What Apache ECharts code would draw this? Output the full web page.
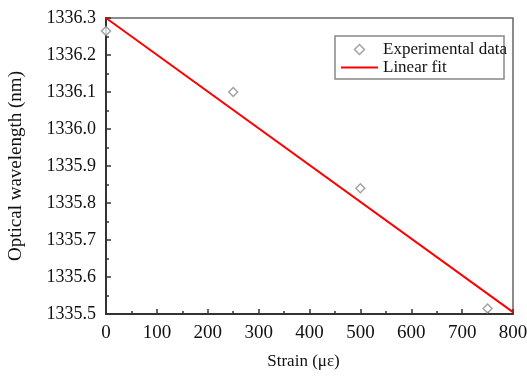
<!DOCTYPE html>
<html>
<head>
<meta charset="utf-8">
<script src="https://cdn.jsdelivr.net/npm/echarts@6/dist/echarts.min.js"></script>
<style>
  html, body { margin: 0; padding: 0; background: #fff; }
  #chart { width: 527px; height: 378px; }
</style>
</head>
<body>
<div id="chart"></div>
<script>
// measured points (strain in µε, wavelength in nm)
const strainX = [0, 250, 500, 750];
const wavelength = [1336.265, 1336.100, 1335.840, 1335.515];
// fit line end points
const fitX = [0, 800];
const fitY = [1336.300, 1335.505];

const FONT = "Liberation Serif";

const chart = echarts.init(document.getElementById("chart"));
chart.setOption({
  animation: false,
  textStyle: { fontFamily: FONT },
  grid: {
    left: 106,
    right: 14,
    top: 18,
    bottom: 64,
    outerBoundsMode: "none",
    show: true,
    borderColor: "#666",
    borderWidth: 1.5
  },
  legend: {
    orient: "vertical",
    left: 341,
    top: 41,
    itemWidth: 37,
    itemHeight: 10,
    itemGap: 1,
    itemTextGap: 3,
    padding: 0,
    symbolKeepAspect: true,
    textStyle: { fontFamily: FONT, fontSize: 17, color: "#111", lineHeight: 17 },
    data: [
      { name: "Experimental data", icon: "path://M0,-1L1,0L0,1L-1,0Z",
        itemStyle: { color: "#fff", borderColor: "#8c8c8c", borderWidth: 1.5 } },
      { name: "Linear fit", icon: "path://M0,0H37V2H0Z",
        itemStyle: { color: "#ff0000", borderWidth: 0 } }
    ]
  },
  graphic: [{
    type: "rect",
    shape: { x: 335, y: 36, width: 169, height: 43 },
    style: { fill: "none", stroke: "#888", lineWidth: 1.5 },
    z: 1
  }],
  xAxis: {
    type: "value",
    min: 0,
    max: 800,
    interval: 100,
    minorTick: { show: true, splitNumber: 2, length: 3, lineStyle: { color: "#333", width: 1.5 } },
    axisLine: { lineStyle: { color: "#333", width: 2 } },
    axisTick: { inside: true, length: 5, lineStyle: { color: "#333", width: 1.5 } },
    axisLabel: { color: "#111", fontSize: 19, margin: 10, fontFamily: FONT },
    splitLine: { show: false },
    name: "Strain (με)",
    nameLocation: "middle",
    nameGap: 39,
    nameTextStyle: { color: "#111", fontSize: 17, fontFamily: FONT, padding: [0, 12, 0, 0] }
  },
  yAxis: {
    type: "value",
    min: 1335.5,
    max: 1336.3,
    interval: 0.1,
    minorTick: { show: true, splitNumber: 2, length: 3, lineStyle: { color: "#333", width: 1.5 } },
    axisLine: { lineStyle: { color: "#333", width: 2 } },
    axisTick: { inside: true, length: 5, lineStyle: { color: "#333", width: 1.5 } },
    axisLabel: {
      color: "#111", fontSize: 18, margin: 10, fontFamily: FONT,
      formatter: v => v.toFixed(1)
    },
    splitLine: { show: false },
    name: "Optical wavelength (nm)",
    nameLocation: "middle",
    nameGap: 80,
    nameTextStyle: { color: "#111", fontSize: 19, fontFamily: FONT }
  },
  series: [
    {
      name: "Linear fit",
      type: "line",
      data: fitX.map((x, i) => [x, fitY[i]]),
      showSymbol: false,
      symbol: "none",
      lineStyle: { color: "#ff0000", width: 2 },
      itemStyle: { color: "#ff0000" },
      z: 2
    },
    {
      name: "Experimental data",
      type: "scatter",
      data: strainX.map((x, i) => [x, wavelength[i]]),
      symbol: "diamond",
      symbolSize: 9,
      itemStyle: { color: "#fff", borderColor: "#8c8c8c", borderWidth: 1.5 },
      z: 3
    }
  ]
});
</script>
</body>
</html>
